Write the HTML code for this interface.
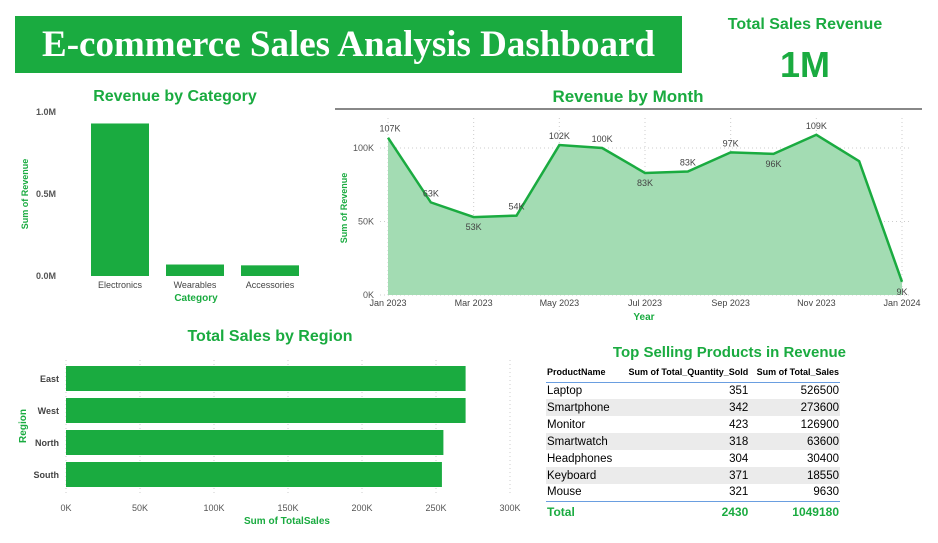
<!DOCTYPE html>
<html><head><meta charset="utf-8"><style>
body{margin:0;width:938px;height:543px;background:#fff;position:relative;overflow:hidden;font-family:"Liberation Sans",sans-serif}
.abs{position:absolute}
.g{color:#1aab40;font-weight:bold}
table{border-collapse:collapse;font-size:11.5px}
</style></head><body>
<div class="abs" style="left:15px;top:16px;width:667px;height:57px;background:#1aab40;color:#fff;font-family:'Liberation Serif',serif;font-weight:bold;font-size:37px;line-height:57px;text-align:center">E-commerce Sales Analysis Dashboard</div>
<div class="abs g" style="left:700px;top:16px;width:210px;text-align:center;font-size:16px">Total Sales Revenue</div>
<div class="abs g" style="left:700px;top:44px;width:210px;text-align:center;font-size:36px">1M</div>

<svg class="abs" style="left:0;top:0" width="938" height="543" font-family="Liberation Sans, sans-serif">
<g id="cat"></g><g id="month"></g><g id="region"></g>
</svg>

<div class="abs g" style="left:540px;top:344px;width:306px;text-align:right;font-size:15px">Top Selling Products in Revenue</div>
<table class="abs" style="left:546px;top:362px;width:294px">
<thead><tr style="font-size:9px;font-weight:bold;border-bottom:1px solid #6a9ee0;height:20px"><th style="text-align:left">ProductName</th><th style="text-align:right">Sum of Total_Quantity_Sold</th><th style="text-align:right">Sum of Total_Sales</th></tr></thead>
<tbody id="tb"></tbody>
<tfoot><tr class="g" style="border-top:1px solid #6a9ee0;height:22px;font-size:12px"><td>Total</td><td style="text-align:right">2430</td><td style="text-align:right">1049180</td></tr></tfoot>
</table>
<script>
const NS="http://www.w3.org/2000/svg";
function el(p,t,a,txt){const e=document.createElementNS(NS,t);for(const k in a)e.setAttribute(k,a[k]);if(txt!==undefined)e.textContent=txt;p.appendChild(e);return e;}
const G="#1aab40";
// Category chart
const catNames=["Electronics","Wearables","Accessories"];
const catValues=[0.93,0.07,0.065];
const catTicks=[0,0.5,1.0];
const cat=document.getElementById("cat");
const cy=v=>276-v*164;
let t=el(cat,"text",{x:175,y:101,"text-anchor":"middle",fill:G,"font-size":16,"font-weight":"bold"},"Revenue by Category");

catTicks.forEach(v=>{const e=el(cat,"text",{x:56,y:cy(v)+3,"text-anchor":"end","font-size":9,fill:"#555","font-weight":"bold"},v.toFixed(1)+"M");});
catValues.forEach((v,i)=>{const x=91+i*75;
const r=el(cat,"rect",{x:x,y:cy(v),width:58,height:276-cy(v),fill:G});

const l=el(cat,"text",{x:x+29,y:288,"text-anchor":"middle","font-size":9,fill:"#444"},catNames[i]);
});
t=el(cat,"text",{x:196,y:301,"text-anchor":"middle","font-size":10,fill:G,"font-weight":"bold"},"Category");
t=el(cat,"text",{x:28,y:194,"text-anchor":"middle","font-size":9,fill:G,"font-weight":"bold",transform:"rotate(-90 28 194)"},"Sum of Revenue");

// Month chart
const monthValues=[107,63,53,54,102,100,83,84,97,96,109,91,9];
const monthLabels=["107K","63K","53K","54K","102K","100K","83K","83K","97K","96K","109K","","9K"];
const monthTicks=["Jan 2023","Mar 2023","May 2023","Jul 2023","Sep 2023","Nov 2023","Jan 2024"];
const yTicks=[0,50,100];
const m=document.getElementById("month");
const mx=i=>388+i*(902-388)/12, my=v=>295-v*1.47;
t=el(m,"text",{x:628,y:102,"text-anchor":"middle",fill:G,"font-size":17,"font-weight":"bold"},"Revenue by Month");
el(m,"line",{x1:335,y1:109,x2:922,y2:109,stroke:"#111","stroke-width":1});
yTicks.forEach(v=>{el(m,"line",{x1:380,x2:910,y1:my(v),y2:my(v),stroke:"#ccc","stroke-dasharray":"1 3"});
const e=el(m,"text",{x:374,y:my(v)+3,"text-anchor":"end","font-size":9,fill:"#555"},v+"K");});
monthTicks.forEach((s,k)=>{const x=mx(k*2);el(m,"line",{x1:x,x2:x,y1:118,y2:295,stroke:"#ccc","stroke-dasharray":"1 3"});
const e=el(m,"text",{x:x,y:306,"text-anchor":"middle","font-size":9,fill:"#444"},s);});
let pts=monthValues.map((v,i)=>mx(i)+","+my(v)).join(" ");
const area=el(m,"polygon",{points:mx(0)+","+my(0)+" "+pts+" "+mx(12)+","+my(0),fill:"#a3dcb3"});

const line=el(m,"polyline",{points:pts,fill:"none",stroke:G,"stroke-width":2.5});

const below=[2,6,9,12];
monthValues.forEach((v,i)=>{if(!monthLabels[i])return;const b=below.includes(i);
const e=el(m,"text",{x:mx(i)+(i==0?2:0),y:b?my(v)+13:my(v)-6,"text-anchor":"middle","font-size":9,fill:"#444"},monthLabels[i]);
});
t=el(m,"text",{x:644,y:320,"text-anchor":"middle","font-size":10,fill:G,"font-weight":"bold"},"Year");
t=el(m,"text",{x:347,y:208,"text-anchor":"middle","font-size":9,fill:G,"font-weight":"bold",transform:"rotate(-90 347 208)"},"Sum of Revenue");

// Region chart
const regionNames=["East","West","North","South"];
const regionValues=[270,270,255,254];
const regionTicks=[0,50,100,150,200,250,300];
const r=document.getElementById("region");
const rx=v=>66+v*1.48;
t=el(r,"text",{x:270,y:341,"text-anchor":"middle",fill:G,"font-size":16,"font-weight":"bold"},"Total Sales by Region");
regionTicks.forEach(v=>{el(r,"line",{x1:rx(v),x2:rx(v),y1:360,y2:494,stroke:"#ccc","stroke-dasharray":"1 3"});
const e=el(r,"text",{x:rx(v),y:511,"text-anchor":"middle","font-size":9,fill:"#555"},v+"K");});
regionValues.forEach((v,i)=>{const y=366+i*32;
const b=el(r,"rect",{x:66,y:y,width:rx(v)-66,height:25,fill:G});
const e=el(r,"text",{x:59,y:y+16,"text-anchor":"end","font-size":9,fill:"#444","font-weight":"bold"},regionNames[i]);});
t=el(r,"text",{x:287,y:524,"text-anchor":"middle","font-size":10,fill:G,"font-weight":"bold"},"Sum of TotalSales");
t=el(r,"text",{x:26,y:426,"text-anchor":"middle","font-size":10,fill:G,"font-weight":"bold",transform:"rotate(-90 26 426)"},"Region");

// Table
const products=["Laptop","Smartphone","Monitor","Smartwatch","Headphones","Keyboard","Mouse"];
const qty=[351,342,423,318,304,371,321];
const sales=[526500,273600,126900,63600,30400,18550,9630];
const tb=document.getElementById("tb");
products.forEach((p,i)=>{const tr=document.createElement("tr");


tr.style.height="17px";if(i%2)tr.style.background="#ebebeb";
tr.innerHTML=`<td>${p}</td><td style="text-align:right">${qty[i]}</td><td style="text-align:right">${sales[i]}</td>`;tb.appendChild(tr);});
</script>
</body></html>
